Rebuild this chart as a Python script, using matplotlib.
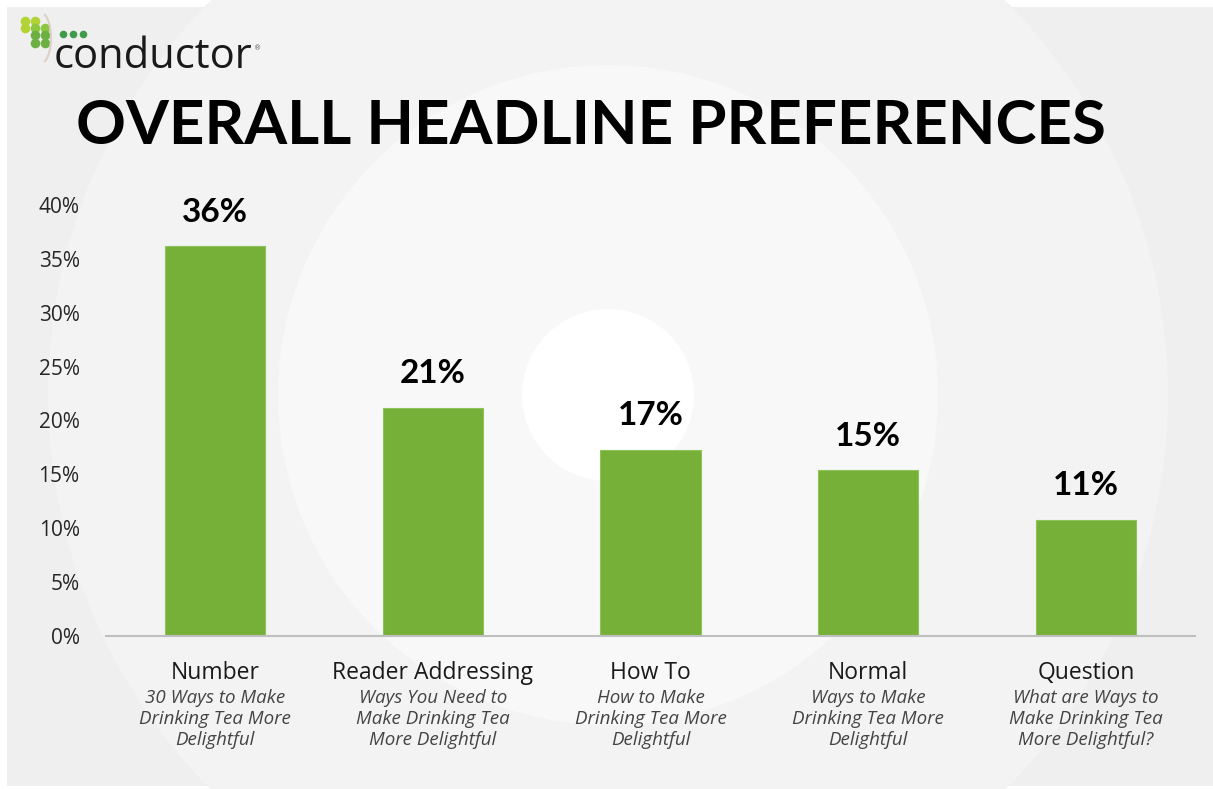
import matplotlib
matplotlib.use('Agg')
import matplotlib.pyplot as plt
from matplotlib.patches import Circle, Rectangle, Arc

categories = ['Number', 'Reader Addressing', 'How To', 'Normal', 'Question']
examples = ['30 Ways to Make\nDrinking Tea More\nDelightful',
            'Ways You Need to\nMake Drinking Tea\nMore Delightful',
            'How to Make\nDrinking Tea More\nDelightful',
            'Ways to Make\nDrinking Tea More\nDelightful',
            'What are Ways to\nMake Drinking Tea\nMore Delightful?']
values = [36.2, 21.2, 17.3, 15.4, 10.8]
labels = ['36%', '21%', '17%', '15%', '11%']
yticks = [0, 5, 10, 15, 20, 25, 30, 35, 40]

W, H = 1213, 789
fig = plt.figure(figsize=(W / 100, H / 100), dpi=100)
fig.patch.set_facecolor('white')

# background canvas in pixel coords
bg = fig.add_axes([0, 0, 1, 1], zorder=0)
bg.set_xlim(0, W); bg.set_ylim(H, 0); bg.axis('off')
bg.add_patch(Rectangle((7, 7), W - 7, H - 10, color='#efefef', lw=0))
for r, c in [(560, '#f3f3f3'), (330, '#f8f8f8'), (86, '#ffffff')]:
    bg.add_patch(Circle((608, 395), r, color=c, lw=0))

# logo
light = [(25, 21), (35, 21), (25, 28)]
mid = [(35, 28), (45, 28)]
dark = [(35, 35), (45, 35), (35, 43), (45, 43)]
bg.scatter([p[0] for p in light], [p[1] for p in light], s=48, color='#b3d335', lw=0)
bg.scatter([p[0] for p in mid], [p[1] for p in mid], s=48, color='#8dc63f', lw=0)
bg.scatter([p[0] for p in dark], [p[1] for p in dark], s=48, color='#6cb044', lw=0)
bg.scatter([63, 73, 83], [34, 34, 34], s=30, color='#3f9b48', lw=0)
bg.add_patch(Arc((40, 38), 22, 52, theta1=-80, theta2=80, color='#ddd0c6', lw=1.5))
bg.text(54, 57, 'conductor', fontsize=30, family='Open Sans', color='#1a1a1a',
        va='center', ha='left')
bg.text(254, 48, '®', fontsize=5, color='#555555', va='center')
bg.text(591, 126, 'OVERALL HEADLINE PREFERENCES', fontsize=44.5, family='Lato',
        fontweight='bold', color='black', ha='center', va='center')

ax = fig.add_axes([106 / W, 1 - 636 / H, (1195 - 106) / W, (636 - 205) / H], zorder=1)
ax.patch.set_alpha(0)
x = list(range(len(categories)))
ax.bar(x, values, width=0.46, color='#76b039', edgecolor='#8cc35a', lw=0.8, zorder=2)
for xi, v, lab in zip(x, values, labels):
    ax.text(xi, v + 1.8, lab, ha='center', va='bottom', fontsize=24,
            fontweight='bold', family='Lato', color='black')
ax.set_xlim(-0.5, 4.5)
ax.set_ylim(0, 40)
ax.set_yticks(yticks)
ax.set_yticklabels([f'{t}%' for t in yticks], fontsize=15, family='Open Sans', color='#262626')
ax.tick_params(axis='y', length=0, pad=19)
ax.tick_params(axis='x', length=0, labelbottom=False)
for s in ['top', 'right', 'left']:
    ax.spines[s].set_visible(False)
ax.spines['bottom'].set_color('#bfbfbf')
ax.spines['bottom'].set_linewidth(1.5)

for xi, cat, ex in zip(x, categories, examples):
    ax.annotate(cat, (xi, 0), xytext=(0, -37), textcoords='offset pixels',
                ha='center', va='center', fontsize=16.5, family='Open Sans', color='#1a1a1a')
    ax.annotate(ex, (xi, 0), xytext=(0, -53), textcoords='offset pixels',
                ha='center', va='top', fontsize=13.5, style='italic', family='Open Sans',
                color='#444444', linespacing=1.2)

fig.savefig('out.png', dpi=100)
